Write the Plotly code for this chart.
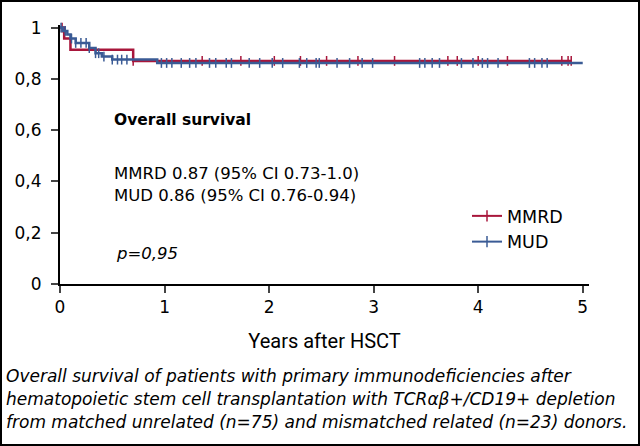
import plotly.graph_objects as go

# Kaplan-Meier step data (years, survival)
mmrd_times = [0, 0.04, 0.10, 0.70, 4.89]
mmrd_surv = [1.0, 0.957, 0.913, 0.870, 0.870]
mmrd_censor = [0.02, 0.70, 1.36, 1.73, 2.05, 2.30, 2.55, 2.85, 3.20, 3.71, 3.80, 4.00, 4.28, 4.80, 4.86, 4.89]

mud_times = [0, 0.03, 0.07, 0.10, 0.15, 0.28, 0.34, 0.40, 0.50, 0.93, 5.0]
mud_surv = [1.0, 0.987, 0.973, 0.957, 0.940, 0.920, 0.900, 0.887, 0.875, 0.862, 0.862]
mud_censor = [0.01, 0.05, 0.11, 0.15, 0.20, 0.25, 0.28, 0.34, 0.37, 0.42, 0.50, 0.55, 0.59, 0.64,
              0.97, 1.02, 1.07, 1.16, 1.24, 1.30, 1.43, 1.49, 1.59, 1.64, 1.81, 1.91, 2.03, 2.13,
              2.29, 2.36, 2.45, 2.48, 2.65, 2.77, 2.89, 2.99, 3.44, 3.49, 3.56, 3.63, 3.84, 3.95,
              4.04, 4.09, 4.19, 4.49, 4.54, 4.61, 4.66]

x_ticks = [0, 1, 2, 3, 4, 5]
y_ticks = [0, 0.2, 0.4, 0.6, 0.8, 1]

caption = [
    "Overall survival of patients with primary immunodeficiencies after",
    "hematopoietic stem cell transplantation with TCR\u03b1\u03b2+/CD19+ depletion",
    "from matched unrelated (n=75) and mismatched related (n=23) donors.",
]

RED = "#A8163B"
BLUE = "#3A5B95"
FONT = "DejaVu Sans, Open Sans, sans-serif"


def surv_at(t, times, surv):
    """survival value of the step curve at time t"""
    val = surv[0]
    for tt, s in zip(times, surv):
        if tt <= t:
            val = s
    return val


fig = go.Figure()

for name, times, surv, cens, color in [
    ("MMRD", mmrd_times, mmrd_surv, mmrd_censor, RED),
    ("MUD", mud_times, mud_surv, mud_censor, BLUE),
]:
    fig.add_trace(go.Scatter(
        x=times, y=surv, mode="lines", line=dict(color=color, width=2.5, shape="hv"),
        showlegend=False, cliponaxis=False,
    ))
    fig.add_trace(go.Scatter(
        x=cens, y=[surv_at(c, times, surv) for c in cens], mode="markers",
        marker=dict(symbol="line-ns", size=7, line=dict(color=color, width=1.5)),
        showlegend=False, cliponaxis=False,
    ))
    # legend entry: line with a censor tick
    fig.add_trace(go.Scatter(
        x=[None], y=[None], mode="lines+markers", name=name,
        line=dict(color=color, width=2),
        marker=dict(symbol="line-ns", size=8, line=dict(color=color, width=1.5)),
    ))

L, R, T, B = 60, 51, 25, 162
W, H = 640, 446
pw, ph = W - L - R, H - T - B

fig.update_layout(
    width=W, height=H,
    margin=dict(l=L, r=R, t=T, b=B),
    paper_bgcolor="white", plot_bgcolor="white",
    separators=",.",
    font=dict(family=FONT, size=17, color="black"),
    legend=dict(x=(467 - L) / pw, y=(H - B - 198) / ph, xanchor="left", yanchor="top",
                bgcolor="rgba(0,0,0,0)", font=dict(size=17.5), tracegroupgap=0),
    showlegend=True,
)

fig.update_xaxes(
    range=[0, 5.06], tickvals=x_ticks, ticks="outside", ticklen=7, tickwidth=2,
    showline=True, linecolor="black", linewidth=2, showgrid=False, zeroline=False,
    title=dict(text="Years after HSCT", standoff=18,
               font=dict(family="Liberation Sans Narrow, Roboto, sans-serif", size=20)),
    tickfont=dict(size=17),
)
fig.update_yaxes(
    range=[0, 1.01], tickvals=y_ticks, ticks="outside", ticklen=7, tickwidth=2,
    showline=True, linecolor="black", linewidth=2, showgrid=False, zeroline=False,
    tickfont=dict(size=17), ticklabelstandoff=6,
)

# text inside the plot
fig.add_annotation(x=0.50, y=0.64, xref="x", yref="y", text="<b>Overall survival</b>",
                   showarrow=False, xanchor="left", font=dict(size=15.5))
fig.add_annotation(x=0.50, y=0.43, xref="x", yref="y", text="MMRD 0.87 (95% CI 0.73-1.0)",
                   showarrow=False, xanchor="left", font=dict(size=16.5))
fig.add_annotation(x=0.50, y=0.345, xref="x", yref="y", text="MUD 0.86 (95% CI 0.76-0.94)",
                   showarrow=False, xanchor="left", font=dict(size=16.5))
fig.add_annotation(x=0.52, y=0.12, xref="x", yref="y", text="<i>p=0,95</i>",
                   showarrow=False, xanchor="left", font=dict(size=16.5))

# caption lines below the chart
for i, line in enumerate(caption):
    fig.add_annotation(x=(4 - L) / pw, y=(H - B - (376 + 23 * i)) / ph, xref="paper", yref="paper",
                       text=f"<i>{line}</i>", showarrow=False, xanchor="left", yanchor="middle",
                       font=dict(size=17))

# frame around the whole figure
fig.add_shape(type="rect", xref="paper", yref="paper",
              x0=(1 - L) / pw, x1=(W - 1 - L) / pw,
              y0=(H - B - (H - 1)) / ph, y1=(H - B - 1) / ph,
              line=dict(color="black", width=2))

fig.write_html("out.html", config={"displayModeBar": False},
               post_script="document.body.style.margin='0px';")
